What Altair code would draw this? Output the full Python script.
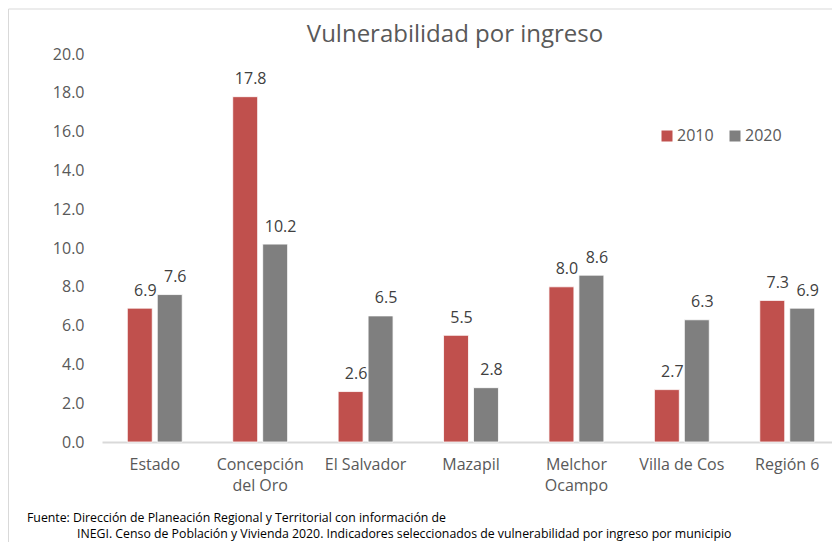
import altair as alt
import pandas as pd

categories = ["Estado", "Concepción del Oro", "El Salvador", "Mazapil",
              "Melchor Ocampo", "Villa de Cos", "Región 6"]
years = ["2010", "2020"]
values_2010 = [6.9, 17.8, 2.6, 5.5, 8.0, 2.7, 7.3]
values_2020 = [7.6, 10.2, 6.5, 2.8, 8.6, 6.3, 6.9]
y_ticks = [0, 2, 4, 6, 8, 10, 12, 14, 16, 18, 20]
colors = ["#C0504D", "#7F7F7F"]
title_text = "Vulnerabilidad por ingreso"
footer_line1 = "Fuente: Dirección de Planeación Regional y Territorial con información de"
footer_line2 = ("INEGI. Censo de Población y Vivienda 2020. Indicadores seleccionados "
                "de vulnerabilidad por ingreso por municipio")

rows = []
for c, a, b in zip(categories, values_2010, values_2020):
    rows.append({"cat": c, "year": years[0], "value": a})
    rows.append({"cat": c, "year": years[1], "value": b})
df = pd.DataFrame(rows)

FONT = "Open Sans"
W, H = 730, 388

label_expr = ("datum.label == 'Concepción del Oro' ? ['Concepción', 'del Oro'] : "
              "datum.label == 'Melchor Ocampo' ? ['Melchor', 'Ocampo'] : datum.label")

x_enc = alt.X(
    "cat:N", sort=categories,
    scale=alt.Scale(paddingInner=0.479, paddingOuter=0.24, range=[0, 738]),
    axis=alt.Axis(title=None, labelAngle=0, ticks=False, tickSize=0,
                  domainColor="#D9D9D9", domainWidth=2, labelPadding=14,
                  labelFont=FONT, labelFontSize=16, labelColor="#595959",
                  labelLineHeight=21, labelExpr=label_expr),
)
xoff_enc = alt.XOffset("year:N", sort=years,
                       scale=alt.Scale(paddingInner=0.167, paddingOuter=0))
y_enc = alt.Y(
    "value:Q", scale=alt.Scale(domain=[0, 20], nice=False),
    axis=alt.Axis(title=None, values=y_ticks, format=".1f", domain=False,
                  ticks=False, tickSize=0, grid=False, labelPadding=18,
                  labelFont=FONT, labelFontSize=16, labelColor="#595959"),
)

bars = alt.Chart(df).mark_bar(stroke="white", strokeWidth=0.8).encode(
    x=x_enc, xOffset=xoff_enc, y=y_enc,
    color=alt.Color(
        "year:N", sort=years,
        scale=alt.Scale(domain=years, range=colors),
        legend=alt.Legend(title=None, orient="none", legendX=557, legendY=74,
                          direction="horizontal", symbolType="square",
                          symbolSize=121, symbolStrokeWidth=0,
                          labelFont=FONT, labelFontSize=16, labelColor="#595959",
                          columnPadding=13, labelOffset=2, padding=0),
    ),
)

labels = alt.Chart(df).mark_text(
    baseline="alphabetic", dy=-12.5, dx=5.5, fontSize=16, font=FONT, color="#404040"
).encode(
    x=x_enc, xOffset=xoff_enc, y=y_enc,
    text=alt.Text("value:Q", format=".1f"),
)

one = alt.Data(values=[{}])

border = alt.Chart(one).mark_rect(
    fill="white", fillOpacity=0, stroke="#D9D9D9", strokeWidth=1
).encode(x=alt.value(-93.5), x2=alt.value(2000), y=alt.value(-45), y2=alt.value(2000))

title = alt.Chart(one).mark_text(
    text=title_text, font=FONT, fontSize=24, color="#595959",
    align="center", baseline="alphabetic"
).encode(x=alt.value(353), y=alt.value(-12.3))

foot1 = alt.Chart(one).mark_text(
    text=footer_line1, font=FONT, fontSize=12.3, color="#000000",
    align="left", baseline="alphabetic"
).encode(x=alt.value(-75), y=alt.value(467.5))

foot2 = alt.Chart(one).mark_text(
    text=footer_line2, font=FONT, fontSize=12.3, color="#000000",
    align="left", baseline="alphabetic"
).encode(x=alt.value(-25), y=alt.value(484))

chart = alt.layer(border, bars, labels, title, foot1, foot2).properties(
    width=W, height=H,
    autosize=alt.AutoSizeParams(type="none"),
    padding={"left": 94, "top": 46, "right": 0, "bottom": 100},
    background="white",
).configure_view(strokeWidth=0)

chart.save("out.html", embed_options={"renderer": "svg", "actions": False})
